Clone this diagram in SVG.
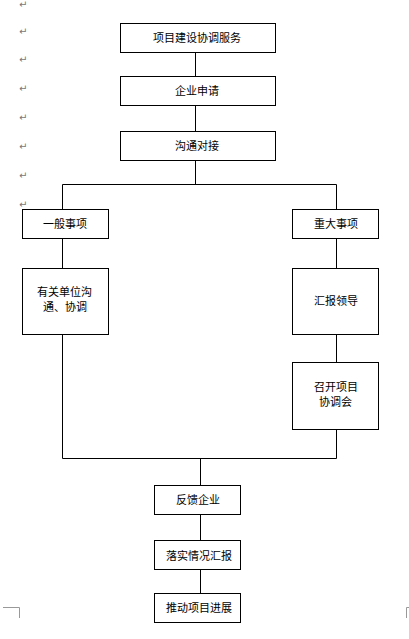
<svg xmlns="http://www.w3.org/2000/svg" width="409" height="639" viewBox="0 0 409 639">
<style>
.box{fill:#fff;stroke:#000;stroke-width:1}
.ln{fill:none;stroke:#000;stroke-width:1}
.t{font-family:"Noto Sans CJK SC","Noto Sans",sans-serif;font-size:11px;fill:#000}
.pm{font-family:"DejaVu Sans",sans-serif;font-size:10px;fill:#777}
.cm{fill:none;stroke:#999;stroke-width:1}
</style>
<rect width="409" height="639" fill="#fff"/>
<g id="marks">
<text class="pm" x="19" y="8">↵</text>
<text class="pm" x="19" y="35">↵</text>
<text class="pm" x="19" y="63">↵</text>
<text class="pm" x="19" y="92">↵</text>
<text class="pm" x="19" y="121">↵</text>
<text class="pm" x="19" y="150">↵</text>
<text class="pm" x="19" y="179">↵</text>
<text class="pm" x="19" y="208">↵</text>
<path class="cm" d="M3 607.5H19.5V618M406.5 618V607.5H409"/>
</g>
<g id="connectors">
<path class="ln" d="M195.5 52.5V76.5M195.5 105.5V131.5M195.5 160.5V184.5M62.5 209.5V184.5H336.5V209.5M62.5 238.5V268.5M336.5 238.5V268.5M336.5 334.5V362.5M62.5 334.5V458.5H336.5V429.5M200.5 458.5V485.5M200.5 514.5V540.5M200.5 569.5V593.5"/>
</g>
<g id="n1"><rect class="box" x="120.5" y="23.5" width="155" height="29"/><text class="t" x="153" y="42">项目建设协调服务</text></g>
<g id="n2"><rect class="box" x="120.5" y="76.5" width="155" height="29"/><text class="t" x="175" y="95">企业申请</text></g>
<g id="n3"><rect class="box" x="120.5" y="131.5" width="155" height="29"/><text class="t" x="175" y="150">沟通对接</text></g>
<g id="n4"><rect class="box" x="22.5" y="209.5" width="86" height="29"/><text class="t" x="43" y="228">一般事项</text></g>
<g id="n5"><rect class="box" x="22.5" y="268.5" width="86" height="66"/><text class="t" x="37" y="296">有关单位沟</text><text class="t" x="43" y="311">通、协调</text></g>
<g id="n6"><rect class="box" x="292.5" y="209.5" width="86" height="29"/><text class="t" x="314" y="228">重大事项</text></g>
<g id="n7"><rect class="box" x="292.5" y="268.5" width="86" height="66"/><text class="t" x="314" y="305">汇报领导</text></g>
<g id="n8"><rect class="box" x="292.5" y="362.5" width="86" height="67"/><text class="t" x="314" y="391">召开项目</text><text class="t" x="319" y="406">协调会</text></g>
<g id="n9"><rect class="box" x="154.5" y="485.5" width="86" height="29"/><text class="t" x="176" y="504">反馈企业</text></g>
<g id="n10"><rect class="box" x="154.5" y="540.5" width="86" height="29"/><text class="t" x="166" y="559.5">落实情况汇报</text></g>
<g id="n11"><rect class="box" x="154.5" y="593.5" width="86" height="29"/><text class="t" x="166" y="612">推动项目进展</text></g>
</svg>
